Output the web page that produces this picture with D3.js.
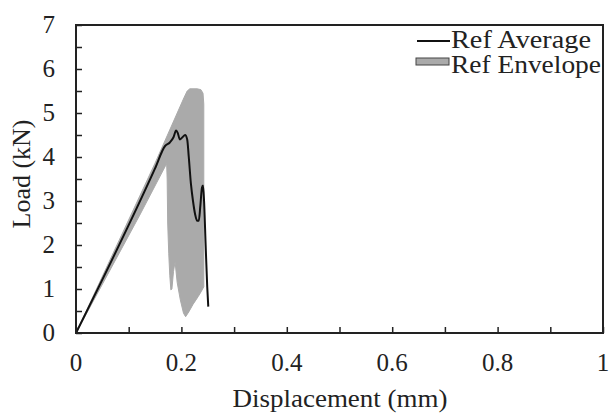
<!DOCTYPE html>
<html><head><meta charset="utf-8">
<script src="https://cdn.jsdelivr.net/npm/d3@7"></script>
<style>body{margin:0;background:#fff}svg{display:block}text{font-family:"Liberation Serif","Times New Roman",serif;fill:#222}</style>
</head><body><svg id="c" width="609" height="413"></svg>
<script>
// ---- data ----
const xTicks = [0, 0.2, 0.4, 0.6, 0.8, 1];
const xTickLabels = ["0", "0.2", "0.4", "0.6", "0.8", "1"];
const yTicks = [0, 1, 2, 3, 4, 5, 6, 7];
const yTickLabels = ["0", "1", "2", "3", "4", "5", "6", "7"];
const seriesNames = ["Ref Average", "Ref Envelope"];

const avgX = [0, 0.150, 0.169, 0.178, 0.185, 0.190, 0.193, 0.197, 0.202, 0.207, 0.211, 0.214, 0.218, 0.222, 0.226, 0.230, 0.233, 0.236, 0.239, 0.241, 0.243, 0.246, 0.249, 0.251];
const avgY = [0, 3.74, 4.25, 4.33, 4.45, 4.60, 4.55, 4.40, 4.45, 4.50, 4.40, 4.00, 3.40, 3.00, 2.70, 2.55, 2.55, 2.90, 3.30, 3.35, 3.00, 2.00, 1.05, 0.60];

const envX = [0, 0.150, 0.205, 0.211, 0.216, 0.230, 0.237, 0.241, 0.2425, 0.2425, 0.238, 0.232, 0.222, 0.214, 0.208, 0.204, 0.198, 0.192, 0.188, 0.185, 0.182, 0.180, 0.178, 0.176, 0.174, 0.173, 0.172, 0.121];
const envY = [0, 3.86, 5.35, 5.50, 5.55, 5.55, 5.53, 5.45, 5.20, 1.05, 0.95, 0.83, 0.65, 0.48, 0.37, 0.45, 0.75, 1.15, 1.62, 1.40, 1.00, 0.98, 1.30, 1.80, 2.50, 3.50, 3.85, 2.68];

// ---- layout ----
const L = 76, R = 603, T = 25, B = 333;
const svg = d3.select("#c");
const x = d3.scaleLinear().domain([0, 1]).range([L, R]);
const y = d3.scaleLinear().domain([0, 7]).range([B, T]);

// envelope
const envPts = envX.map((v, i) => [v, envY[i]]);
svg.append("path")
  .attr("d", d3.line().x(d => x(d[0])).y(d => y(d[1])).curve(d3.curveLinearClosed)(envPts))
  .attr("fill", "#aaaaaa").attr("stroke", "#aaaaaa").attr("stroke-width", 1).attr("stroke-linejoin", "round");

// average
const avgPts = avgX.map((v, i) => [v, avgY[i]]);
svg.append("path")
  .attr("d", d3.line().x(d => x(d[0])).y(d => y(d[1])).curve(d3.curveMonotoneX)(avgPts))
  .attr("fill", "none").attr("stroke", "#111").attr("stroke-width", 2);

// axes (ticks inward)
const xAx = svg.append("g").attr("transform", `translate(0,${B})`)
  .call(d3.axisBottom(x).tickValues(d3.range(0, 1.0001, 0.1)).tickSize(-6).tickFormat(""));
const yAx = svg.append("g").attr("transform", `translate(${L},0)`)
  .call(d3.axisLeft(y).tickValues(d3.range(0, 7.0001, 0.5)).tickSize(-6).tickFormat(""));
[xAx, yAx].forEach(g => {
  g.select(".domain").remove();
  g.selectAll("line").attr("stroke", "#222").attr("stroke-width", 1.5);
});

// frame
svg.append("rect").attr("x", L).attr("y", T).attr("width", R - L).attr("height", B - T)
  .attr("fill", "none").attr("stroke", "#222").attr("stroke-width", 2);

// tick labels
svg.append("g").selectAll("text").data(xTicks).join("text")
  .attr("x", d => x(d)).attr("y", 371).attr("text-anchor", "middle")
  .attr("font-size", 25).text((d, i) => xTickLabels[i]);
svg.append("g").selectAll("text").data(yTicks).join("text")
  .attr("x", 55).attr("y", d => y(d) + 8).attr("text-anchor", "end")
  .attr("font-size", 25).text((d, i) => yTickLabels[i]);

// axis titles
svg.append("text").attr("x", 340).attr("y", 407).attr("text-anchor", "middle")
  .attr("font-size", 26).attr("textLength", 215).attr("lengthAdjust", "spacingAndGlyphs")
  .text("Displacement (mm)");
svg.append("text").attr("transform", "translate(30,174) rotate(-90)").attr("text-anchor", "middle")
  .attr("font-size", 26).text("Load (kN)");

// legend
svg.append("line").attr("x1", 417).attr("x2", 450).attr("y1", 41).attr("y2", 41)
  .attr("stroke", "#111").attr("stroke-width", 2);
svg.append("text").attr("x", 451).attr("y", 48).attr("font-size", 25)
  .attr("textLength", 140).attr("lengthAdjust", "spacingAndGlyphs").text(seriesNames[0]);
svg.append("rect").attr("x", 416).attr("y", 58).attr("width", 33).attr("height", 7)
  .attr("fill", "#aaaaaa").attr("stroke", "#444").attr("stroke-width", 1);
svg.append("text").attr("x", 451).attr("y", 73).attr("font-size", 25)
  .attr("textLength", 150).attr("lengthAdjust", "spacingAndGlyphs").text(seriesNames[1]);
</script></body></html>
